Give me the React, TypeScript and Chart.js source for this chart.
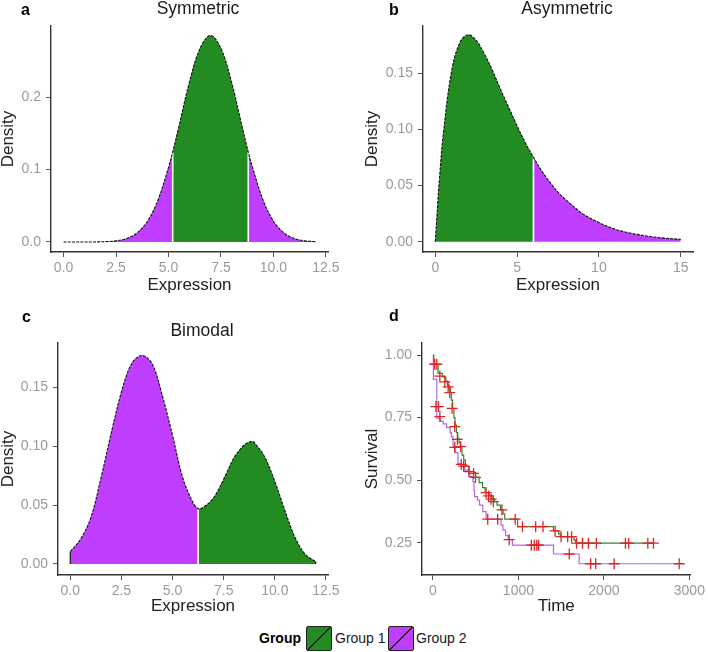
import React, { useEffect, useRef } from 'react';
import { Chart, registerables } from 'chart.js';
Chart.register(...registerables);

const FONT = "'Liberation Sans', Arial, Helvetica, sans-serif";
const GREEN = '#228B22';
const PURPLE = '#BF3EFF';
const TICK_COLOR = '#9a9a9a';
const AXIS_COLOR = '#333333';
const CENSOR = '#e02424';

// ---- Panel a: Symmetric ----
const symX = [0, 0.5, 1, 1.5, 2, 2.5, 3, 3.5, 4, 4.5, 5, 5.2, 5.5, 6, 6.5, 7, 7.5, 8, 8.5, 8.8, 9, 9.5, 10, 10.5, 11, 11.5, 12];
const symY = [0, 0, 0, 0.0001, 0.0005, 0.0016, 0.0048, 0.0125, 0.0287, 0.058, 0.103, 0.124, 0.16, 0.221, 0.267, 0.285, 0.267, 0.221, 0.16, 0.124, 0.103, 0.058, 0.0287, 0.0125, 0.0048, 0.0016, 0.0005];
const symSplits = [5.2, 8.8];
const symXTicks = [0, 2.5, 5, 7.5, 10, 12.5];
const symXLabels = ['0.0', '2.5', '5.0', '7.5', '10.0', '12.5'];
const symYTicks = [0, 0.1, 0.2];
const symYLabels = ['0.0', '0.1', '0.2'];

// ---- Panel b: Asymmetric ----
const asymX = [0, 0.25, 0.5, 1, 1.5, 2, 2.5, 3, 3.5, 4, 4.5, 5, 5.5, 6, 6.5, 7, 7.5, 8, 9, 10, 11, 12, 13, 14, 15];
const asymY = [0, 0.055, 0.097, 0.152, 0.177, 0.184, 0.179, 0.167, 0.152, 0.135, 0.119, 0.103, 0.088, 0.075, 0.063, 0.053, 0.044, 0.037, 0.025, 0.017, 0.011, 0.0074, 0.0049, 0.0032, 0.0021];
const asymSplit = 6;
const asymXTicks = [0, 5, 10, 15];
const asymXLabels = ['0', '5', '10', '15'];
const asymYTicks = [0, 0.05, 0.1, 0.15];
const asymYLabels = ['0.00', '0.05', '0.10', '0.15'];

// ---- Panel c: Bimodal ----
const bimX = [0, 0.5, 1, 1.5, 2, 2.5, 3, 3.5, 4, 4.5, 5, 5.5, 6, 6.25, 6.5, 7, 7.5, 8, 8.5, 8.85, 9, 9.5, 10, 10.5, 11, 11.5, 12];
const bimY = [0.0104, 0.021, 0.039, 0.073, 0.111, 0.146, 0.17, 0.177, 0.17, 0.143, 0.109, 0.073, 0.052, 0.047, 0.048, 0.056, 0.072, 0.09, 0.101, 0.104, 0.103, 0.091, 0.07, 0.045, 0.022, 0.008, 0.002];
const bimSplit = 6.25;
const bimXTicks = [0, 2.5, 5, 7.5, 10, 12.5];
const bimXLabels = ['0.0', '2.5', '5.0', '7.5', '10.0', '12.5'];
const bimYTicks = [0, 0.05, 0.1, 0.15];
const bimYLabels = ['0.00', '0.05', '0.10', '0.15'];

// ---- Panel d: Survival ----
const g1Time = [0, 10, 60, 110, 150, 170, 190, 205, 215, 230, 245, 258, 275, 290, 305, 320, 340, 360, 380, 420, 480, 500, 540, 580, 610, 660, 690, 720, 750, 790, 820, 840, 990, 1410, 1470, 1490, 1650, 1670, 2580];
const g1Surv = [1, 0.963, 0.927, 0.913, 0.896, 0.88, 0.865, 0.85, 0.82, 0.787, 0.75, 0.72, 0.69, 0.667, 0.65, 0.636, 0.6, 0.58, 0.556, 0.534, 0.527, 0.511, 0.49, 0.47, 0.45, 0.437, 0.424, 0.414, 0.4, 0.381, 0.365, 0.344, 0.314, 0.297, 0.285, 0.274, 0.26, 0.248, 0.248];
const g1CensorTime = [20, 45, 81, 139, 178, 197, 224, 255, 286, 324, 359, 421, 475, 498, 622, 652, 680, 707, 807, 962, 1047, 1202, 1288, 1429, 1499, 1576, 1622, 1680, 1750, 1819, 1912, 2252, 2290, 2514, 2580];
const g1CensorSurv = [0.963, 0.963, 0.916, 0.893, 0.873, 0.85, 0.787, 0.714, 0.663, 0.634, 0.556, 0.534, 0.527, 0.511, 0.45, 0.437, 0.424, 0.414, 0.381, 0.344, 0.314, 0.314, 0.314, 0.297, 0.274, 0.274, 0.274, 0.248, 0.248, 0.248, 0.248, 0.248, 0.248, 0.248, 0.248];
const g2Time = [0, 5, 45, 90, 120, 160, 200, 216, 236, 260, 293, 330, 371, 429, 468, 480, 487, 520, 545, 583, 622, 796, 820, 850, 880, 930, 1410, 1710, 2881];
const g2Surv = [1, 0.903, 0.748, 0.735, 0.725, 0.71, 0.69, 0.674, 0.634, 0.61, 0.567, 0.555, 0.54, 0.514, 0.494, 0.46, 0.434, 0.42, 0.4, 0.374, 0.344, 0.32, 0.3, 0.278, 0.262, 0.24, 0.205, 0.166, 0.166];
const g2CensorTime = [35, 65, 81, 255, 332, 641, 757, 892, 1151, 1185, 1215, 1235, 1595, 1846, 1904, 2120, 2881];
const g2CensorSurv = [0.794, 0.794, 0.754, 0.631, 0.563, 0.344, 0.344, 0.262, 0.24, 0.24, 0.24, 0.24, 0.205, 0.166, 0.166, 0.166, 0.166];
const survXTicks = [0, 1000, 2000, 3000];
const survXLabels = ['0', '1000', '2000', '3000'];
const survYTicks = [0.25, 0.5, 0.75, 1.0];
const survYLabels = ['0.25', '0.50', '0.75', '1.00'];

const legendGroups = ['Group 1', 'Group 2'];
const legendColors = [GREEN, PURPLE];

function pts(xs: number[], ys: number[], lo = -Infinity, hi = Infinity) {
  const out: { x: number; y: number }[] = [];
  xs.forEach((x, i) => {
    if (x >= lo - 1e-9 && x <= hi + 1e-9) out.push({ x, y: ys[i] });
  });
  return out;
}

function yAt(xs: number[], ys: number[], x: number) {
  const i = xs.findIndex((v) => Math.abs(v - x) < 1e-9);
  return ys[i];
}

function axis(o: {
  min: number; max: number; ticks: number[]; labels: string[]; title: string;
  size: number; isX: boolean; titlePad: number;
}) {
  return {
    type: 'linear',
    min: o.min,
    max: o.max,
    afterBuildTicks: (s: any) => { s.ticks = o.ticks.map((v) => ({ value: v })); },
    afterFit: (s: any) => { if (o.isX) s.height = o.size; else s.width = o.size; },
    ticks: {
      color: TICK_COLOR,
      font: { family: FONT, size: 14 },
      padding: o.isX ? 3 : 5,
      autoSkip: false,
      maxRotation: 0,
      callback: (v: number) => {
        const i = o.ticks.findIndex((t) => Math.abs(t - v) < 1e-9);
        return i >= 0 ? o.labels[i] : '';
      },
    },
    grid: { display: true, drawOnChartArea: false, drawTicks: true, tickLength: 5, color: '#555' },
    border: { display: true, color: AXIS_COLOR, width: 1.4 },
    title: {
      display: true, text: o.title, color: '#222',
      font: { family: FONT, size: 17, lineHeight: 1 },
      padding: { top: o.titlePad, bottom: 0 },
    },
  };
}

function densityDatasets(xs: number[], ys: number[], segs: { lo: number; hi: number; color: string }[], splits: number[], edges: number[]) {
  const ds: any[] = [];
  segs.forEach((s) => {
    ds.push({
      data: pts(xs, ys, s.lo, s.hi), backgroundColor: s.color, borderColor: 'rgba(0,0,0,0)', borderWidth: 1,
      fill: 'origin', pointRadius: 0, tension: 0.35, order: 3,
    });
  });
  splits.forEach((x) => {
    ds.push({
      data: [{ x, y: 0 }, { x, y: yAt(xs, ys, x) }], borderColor: '#ffffff', borderWidth: 1.6,
      fill: false, pointRadius: 0, tension: 0, order: 2,
    });
  });
  edges.forEach((x) => {
    ds.push({
      data: [{ x, y: 0 }, { x, y: yAt(xs, ys, x) }], borderColor: '#111', borderWidth: 1.2,
      fill: false, pointRadius: 0, tension: 0, order: 1,
    });
  });
  ds.push({
    data: pts(xs, ys), borderColor: '#111', borderWidth: 1.1, borderDash: [3, 1.2],
    fill: false, pointRadius: 0, tension: 0.35, order: 1,
  });
  return ds;
}

function baseOptions(padding: any, x: any, y: any) {
  return {
    animation: false,
    responsive: false,
    events: [],
    layout: { padding },
    plugins: { legend: { display: false }, tooltip: { enabled: false }, title: { display: false } },
    scales: { x, y },
  };
}

const configA = () => ({
  type: 'line',
  data: {
    datasets: densityDatasets(symX, symY, [
      { lo: 0, hi: symSplits[0], color: PURPLE },
      { lo: symSplits[0], hi: symSplits[1], color: GREEN },
      { lo: symSplits[1], hi: 12, color: PURPLE },
    ], symSplits, []),
  },
  options: baseOptions(
    { left: 0, top: 26, right: 26, bottom: 0 },
    axis({ min: -0.6, max: 12.6, ticks: symXTicks, labels: symXLabels, title: 'Expression', size: 42, isX: true, titlePad: 0 }),
    axis({ min: -0.0138, max: 0.298, ticks: symYTicks, labels: symYLabels, title: 'Density', size: 51, isX: false, titlePad: 0 }),
  ),
});

const configB = () => ({
  type: 'line',
  data: {
    datasets: densityDatasets(asymX, asymY, [
      { lo: 0, hi: asymSplit, color: GREEN },
      { lo: asymSplit, hi: 15, color: PURPLE },
    ], [asymSplit], []),
  },
  options: baseOptions(
    { left: 0, top: 26, right: 15, bottom: 0 },
    axis({ min: -0.75, max: 15.75, ticks: asymXTicks, labels: asymXLabels, title: 'Expression', size: 42, isX: true, titlePad: 0 }),
    axis({ min: -0.00916, max: 0.1918, ticks: asymYTicks, labels: asymYLabels, title: 'Density', size: 69, isX: false, titlePad: 10 }),
  ),
});

const configC = () => ({
  type: 'line',
  data: {
    datasets: densityDatasets(bimX, bimY, [
      { lo: 0, hi: bimSplit, color: PURPLE },
      { lo: bimSplit, hi: 12, color: GREEN },
    ], [bimSplit], [0, 12]),
  },
  options: baseOptions(
    { left: 0, top: 38, right: 26, bottom: 0 },
    axis({ min: -0.6, max: 12.6, ticks: bimXTicks, labels: bimXLabels, title: 'Expression', size: 40, isX: true, titlePad: 0 }),
    axis({ min: -0.00934, max: 0.1876, ticks: bimYTicks, labels: bimYLabels, title: 'Density', size: 58, isX: false, titlePad: 0 }),
  ),
});

const configD = () => ({
  type: 'line',
  data: {
    datasets: [
      {
        label: 'Group 1 censored', data: pts(g1CensorTime, g1CensorSurv), showLine: false,
        pointStyle: 'cross', pointRadius: 5.5, pointBorderColor: CENSOR, pointBorderWidth: 1.3, order: 0,
      },
      {
        label: 'Group 2 censored', data: pts(g2CensorTime, g2CensorSurv), showLine: false,
        pointStyle: 'cross', pointRadius: 5.5, pointBorderColor: CENSOR, pointBorderWidth: 1.3, order: 0,
      },
      {
        label: 'Group 1', data: pts(g1Time, g1Surv), borderColor: '#2e8a2e', borderWidth: 1.2,
        stepped: 'before', pointRadius: 0, fill: false, order: 1,
      },
      {
        label: 'Group 2', data: pts(g2Time, g2Surv), borderColor: '#b468e0', borderWidth: 1.2,
        stepped: 'before', pointRadius: 0, fill: false, order: 2,
      },
    ],
  },
  options: baseOptions(
    { left: 0, top: 38, right: 15, bottom: 0 },
    axis({ min: -128, max: 3012, ticks: survXTicks, labels: survXLabels, title: 'Time', size: 40, isX: true, titlePad: 0 }),
    axis({ min: 0.121, max: 1.048, ticks: survYTicks, labels: survYLabels, title: 'Survival', size: 68, isX: false, titlePad: 10 }),
  ),
});

function Panel(props: { left: number; top: number; width: number; height: number; config: () => any }) {
  const ref = useRef<HTMLCanvasElement>(null);
  useEffect(() => {
    const chart = new Chart(ref.current as HTMLCanvasElement, props.config());
    return () => chart.destroy();
  }, []);
  return (
    <canvas
      ref={ref}
      width={props.width}
      height={props.height}
      style={{ position: 'absolute', left: props.left, top: props.top, width: props.width, height: props.height }}
    />
  );
}

function Label(props: { text: string; left: number; top: number; size: number; bold?: boolean; center?: boolean }) {
  const style: any = {
    position: 'absolute', top: props.top, fontFamily: FONT, fontSize: props.size, lineHeight: `${props.size}px`,
    fontWeight: props.bold ? 'bold' : 'normal', color: props.bold ? '#000' : '#1a1a1a', whiteSpace: 'nowrap',
  };
  if (props.center) { style.left = props.left - 100; style.width = 200; style.textAlign = 'center'; }
  else style.left = props.left;
  return <div style={style}>{props.text}</div>;
}

function LegendBox(props: { left: number; color: string }) {
  return (
    <div
      style={{
        position: 'absolute', left: props.left, top: 626, width: 24, height: 23,
        border: '1px solid #222', borderRadius: 2,
        background: `linear-gradient(to bottom right, ${props.color} 0, ${props.color} calc(50% - 0.7px), #222 calc(50% - 0.7px), #222 calc(50% + 0.7px), ${props.color} calc(50% + 0.7px))`,
      }}
    />
  );
}

export default function App() {
  return (
    <div style={{ position: 'absolute', left: 0, top: 0, width: 708, height: 652, background: '#fff', overflow: 'hidden' }}>
      <Panel left={0} top={0} width={354} height={294} config={configA} />
      <Panel left={354} top={0} width={354} height={294} config={configB} />
      <Panel left={0} top={305} width={354} height={310} config={configC} />
      <Panel left={354} top={305} width={354} height={310} config={configD} />

      <Label text="a" left={21} top={1.5} size={16} bold />
      <Label text="b" left={389} top={1.5} size={16} bold />
      <Label text="c" left={22} top={308.5} size={16} bold />
      <Label text="d" left={389} top={308} size={16} bold />

      <Label text="Symmetric" left={198} top={0.2} size={17.5} center />
      <Label text="Asymmetric" left={567} top={0.2} size={17.5} center />
      <Label text="Bimodal" left={202} top={321.9} size={17.5} center />

      <Label text="Group" left={259} top={631} size={14} bold />
      <LegendBox left={306} color={legendColors[0]} />
      <Label text={legendGroups[0]} left={335} top={631} size={14} />
      <LegendBox left={388} color={legendColors[1]} />
      <Label text={legendGroups[1]} left={416} top={631} size={14} />
    </div>
  );
}
